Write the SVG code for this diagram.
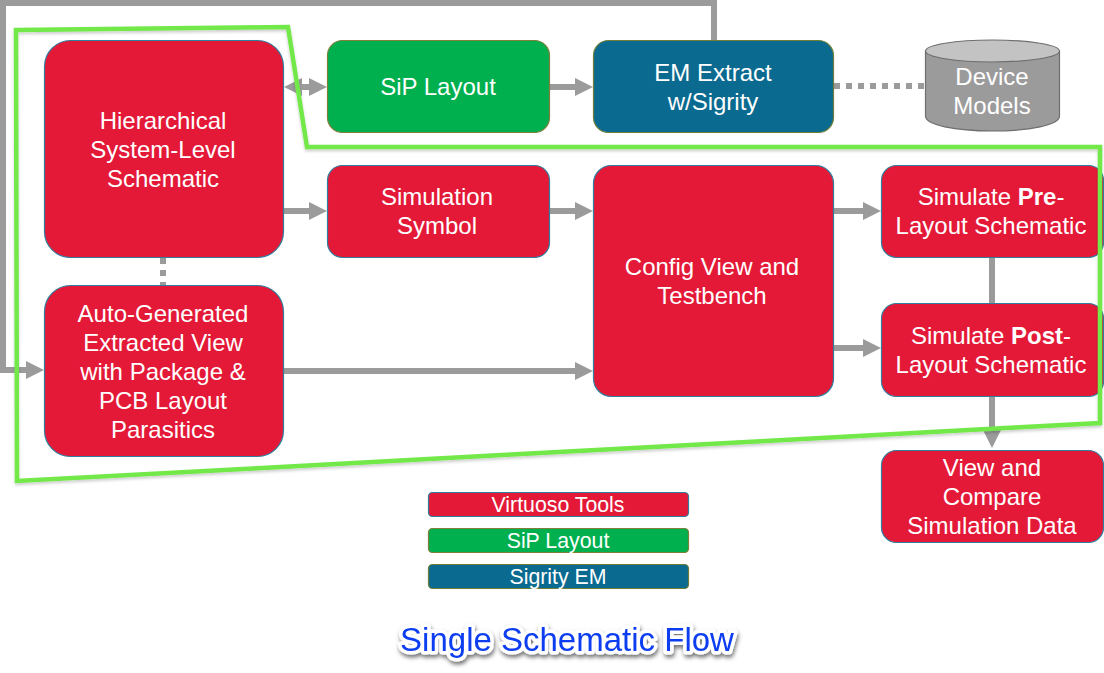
<svg xmlns="http://www.w3.org/2000/svg" width="1104" height="673" viewBox="0 0 1104 673">
<style>
text{font-family:"Liberation Sans",Arial,sans-serif;fill:#fff;text-anchor:middle;font-size:24px}
.red{fill:#e31937;stroke:#2f7f9f;stroke-width:1.2}
.grn{fill:#00b04f;stroke:#7f7f3a;stroke-width:1.2}
.blu{fill:#0a6a8f;stroke:#6f7f3a;stroke-width:1.2}
.ln{fill:none;stroke:#9b9b9b;stroke-width:6}
.dot{fill:none;stroke:#9b9b9b;stroke-width:6;stroke-dasharray:6 6}
.leg{font-size:21.3px}
</style>
<defs>
<marker id="a" markerUnits="userSpaceOnUse" markerWidth="18" markerHeight="18" refX="7" refY="9" orient="auto-start-reverse"><path d="M0 0L18 9L0 18Z" fill="#9b9b9b"/></marker>
<filter id="sh" x="-5%" y="-5%" width="110%" height="110%"><feDropShadow dx="0" dy="2" stdDeviation="1.5" flood-color="#000" flood-opacity=".2"/></filter>
<filter id="ts" x="-10%" y="-30%" width="120%" height="170%"><feDropShadow dx="1" dy="3" stdDeviation="2" flood-color="#000" flood-opacity=".55"/></filter>
</defs>
<rect width="1104" height="673" fill="#fff"/>
<g id="connectors">
<path class="ln" d="M714 41V3H3V370H33" marker-end="url(#a)"/>
<path class="ln" d="M295 87H316" marker-start="url(#a)" marker-end="url(#a)"/>
<path class="ln" d="M550 87H582" marker-end="url(#a)"/>
<path class="dot" d="M834 86H926"/>
<path class="ln" d="M284 211H316" marker-end="url(#a)"/>
<path class="ln" d="M550 211H582" marker-end="url(#a)"/>
<path class="ln" d="M834 211H870" marker-end="url(#a)"/>
<path class="ln" d="M834 348H870" marker-end="url(#a)"/>
<path class="ln" d="M284 371H582" marker-end="url(#a)"/>
<path class="ln" d="M992 258V304"/>
<path class="ln" d="M992 396V437" marker-end="url(#a)"/>
<path class="dot" d="M163 258V286"/>
</g>
<g id="hier"><rect class="red" x="44.500" y="40.500" width="239" height="217" rx="26"/><text x="163" y="129">Hierarchical</text><text x="163" y="158">System-Level</text><text x="163" y="187">Schematic</text></g>
<g id="sip"><rect class="grn" x="327.500" y="40.500" width="222" height="92" rx="15"/><text x="438" y="95">SiP Layout</text></g>
<g id="em"><rect class="blu" x="593.500" y="40.500" width="240" height="92" rx="15"/><text x="713" y="81">EM Extract</text><text x="713" y="110">w/Sigrity</text></g>
<g id="models"><path d="M925.500 51V116C925.500 125 955 131 992.500 131S1059.500 125 1059.500 116V51Z" fill="#9b9b9b" stroke="#6e6e6e" stroke-width="1.200"/><ellipse cx="992.500" cy="51" rx="67" ry="11" fill="#c3c3c3" stroke="#6e6e6e" stroke-width="1.200"/><text x="992" y="85">Device</text><text x="992" y="114">Models</text></g>
<g id="symbol"><rect class="red" x="327.500" y="165.500" width="222" height="92" rx="15"/><text x="437" y="205">Simulation</text><text x="437" y="234">Symbol</text></g>
<g id="config"><rect class="red" x="593.500" y="165.500" width="240" height="231" rx="18"/><text x="712" y="275">Config View and</text><text x="712" y="304">Testbench</text></g>
<g id="pre"><rect class="red" x="881.500" y="165.500" width="222" height="92" rx="15"/><text x="991" y="205">Simulate <tspan font-weight="700">Pre</tspan>-</text><text x="991" y="234">Layout Schematic</text></g>
<g id="post"><rect class="red" x="881.500" y="303.500" width="222" height="93" rx="15"/><text x="991" y="344">Simulate <tspan font-weight="700">Post</tspan>-</text><text x="991" y="373">Layout Schematic</text></g>
<g id="extracted"><rect class="red" x="44.500" y="285.500" width="239" height="171" rx="26"/><text x="163" y="322">Auto-Generated</text><text x="163" y="351">Extracted View</text><text x="163" y="380">with Package &amp;</text><text x="163" y="409">PCB Layout</text><text x="163" y="438">Parasitics</text></g>
<g id="view"><rect class="red" x="881.500" y="450.500" width="222" height="92" rx="15"/><text x="992" y="476">View and</text><text x="992" y="505">Compare</text><text x="992" y="534">Simulation Data</text></g>
<g id="boundary"><path d="M16 30L288 27L307 147H1100V423L17 481Z" fill="none" stroke="#72e84a" stroke-width="4.500" filter="url(#sh)"/></g>
<g id="leg1"><rect class="red" x="428.500" y="492.500" width="260" height="24" rx="4"/><text class="leg" x="558" y="512">Virtuoso Tools</text></g>
<g id="leg2"><rect class="grn" x="428.500" y="528.500" width="260" height="24" rx="4"/><text class="leg" x="558" y="548">SiP Layout</text></g>
<g id="leg3"><rect class="blu" x="428.500" y="564.500" width="260" height="24" rx="4"/><text class="leg" x="558" y="584">Sigrity EM</text></g>
<g id="title"><text x="567" y="651" filter="url(#ts)" style="font-size:33px;fill:#0a3cf0;stroke:#fff;stroke-width:7px;paint-order:stroke;stroke-linejoin:round">Single Schematic Flow</text></g>
</svg>
